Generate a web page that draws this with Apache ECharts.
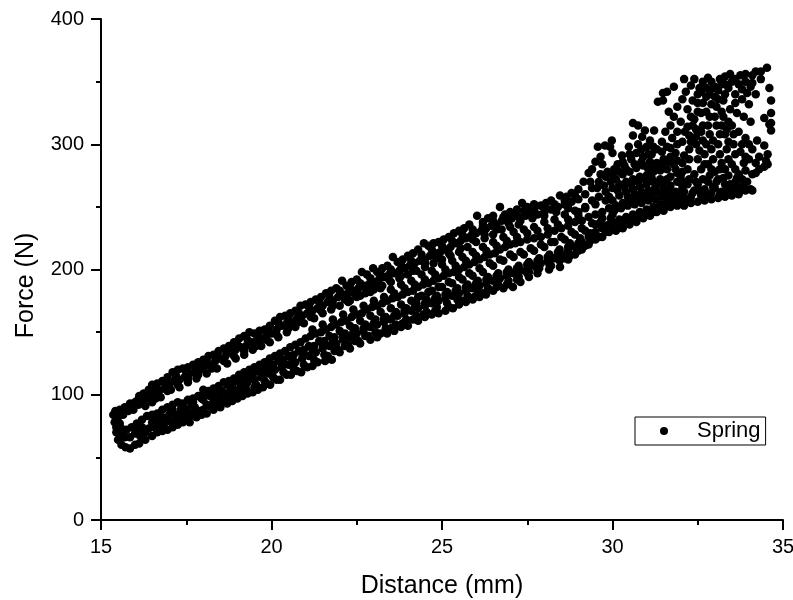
<!DOCTYPE html>
<html><head><meta charset="utf-8">
<style>html,body{margin:0;padding:0;background:#fff}#c{width:793px;height:600px}</style>
<script src="https://cdn.jsdelivr.net/npm/echarts@6/dist/echarts.min.js"></script>
</head><body><div id="c"></div>
<script>
const xTitle = "Distance (mm)";
const yTitle = "Force (N)";
const seriesName = "Spring";
const topEdge = [[15.36,84],[15.42,87],[15.55,88],[15.7,90],[15.85,93],[16,94],[16.12,99],[16.25,101],[16.4,104],[16.5,108],[16.65,109],[16.8,111],[16.95,114],[17.1,118],[17.25,120],[17.4,121],[17.55,122],[17.7,124],[17.85,126],[18,128],[18.15,131],[18.3,132],[18.45,135],[18.6,137],[18.75,139],[18.9,142],[19.05,145],[19.2,147],[19.35,150],[19.5,149],[19.65,151],[19.8,152],[19.95,155],[20.1,159],[20.25,162],[20.4,163],[20.55,165],[20.7,167],[20.85,171],[21,172],[21.15,174],[21.3,176],[21.45,178],[21.6,181],[21.75,183],[21.9,185],[22.07,191],[22.2,187],[22.35,190],[22.5,192],[22.65,198],[22.8,196],[22.98,201],[23.1,198],[23.25,201],[23.4,203],[23.56,210],[23.7,206],[23.85,208],[24,211],[24.15,213],[24.3,216],[24.47,221],[24.6,219],[24.75,221],[24.9,222],[25.05,224],[25.2,226],[25.35,229],[25.5,231],[25.65,233],[25.8,236],[26.03,243],[26.2,238],[26.35,241],[26.5,243],[26.7,250],[26.85,244],[27,246],[27.2,248],[27.35,253],[27.5,250],[27.7,252],[27.9,251],[28.05,253],[28.2,255],[28.46,259],[28.65,258],[28.8,261],[29,264],[29.15,270],[29.3,277]];
const upperInner = [[15.4,78],[15.5,82],[15.65,84],[15.8,87],[15.95,88],[16.1,92],[16.25,95],[16.4,97],[16.55,100],[16.7,103],[16.85,105],[17,108],[17.15,111],[17.3,112],[17.45,114],[17.6,117],[17.75,118],[17.9,120],[18.05,123],[18.2,124],[18.35,127],[18.5,129],[18.65,131],[18.8,134],[18.95,136],[19.1,138],[19.25,139],[19.4,142],[19.55,143],[19.7,145],[19.85,147],[20,149],[20.15,152],[20.3,155],[20.45,157],[20.6,158],[20.75,161],[20.9,163],[21.05,165],[21.2,167],[21.35,169],[21.5,171],[21.65,174],[21.8,175],[21.95,178],[22.1,180],[22.25,181],[22.4,183],[22.55,185],[22.7,187],[22.85,188],[23,190],[23.15,192],[23.3,194],[23.45,196],[23.6,197],[23.75,199],[23.9,201],[24.05,203],[24.2,205],[24.35,207],[24.5,208],[24.65,211],[24.8,213],[24.95,214],[25.1,216],[25.25,218],[25.4,221],[25.55,223],[25.7,225],[25.85,227],[26,229],[26.15,231],[26.3,233],[26.45,235],[26.6,236],[26.75,239],[26.9,240],[27.05,241],[27.25,242],[27.45,243],[27.6,245],[27.8,244],[28,246],[28.2,248],[28.4,250],[28.6,252],[28.8,254],[29,256],[29.2,260],[29.4,265],[29.6,270],[29.8,274],[30,276]];
const upperThird = [[16.3,91],[16.5,94],[16.75,98],[17.05,104],[17.3,106],[17.55,110],[17.8,113],[18.1,117],[18.4,121],[18.7,125],[18.95,129],[19.2,132],[19.45,136],[19.7,139],[19.95,142],[20.2,146],[20.45,150],[20.7,154],[20.95,157],[21.25,161],[21.5,165],[21.75,168],[22,171],[22.25,174],[22.5,178],[22.75,181],[23,184],[23.25,187],[23.5,190],[23.75,193],[24,196],[24.25,199],[24.5,202],[24.75,205],[25,208],[25.25,211],[25.5,214],[25.75,218],[26,222],[26.25,225],[26.5,228],[26.75,232],[27,234],[27.25,236]];
const upperRowA = [[15.5,85],[15.75,89],[16.05,95],[16.35,100],[16.6,104],[16.9,109],[17.2,115],[17.5,118],[17.8,122],[18.1,127],[18.4,131],[18.7,135],[19,140],[19.3,144],[19.6,147],[19.9,151],[20.2,157],[20.5,161],[20.8,165],[21.1,170],[21.4,174],[21.7,178],[22,183],[22.3,186],[22.6,189],[22.9,193],[23.2,196],[23.5,200],[23.8,204],[24.1,207],[24.4,212],[24.7,216],[25,219],[25.3,223],[25.6,228],[25.9,232],[26.2,235],[26.5,239],[26.8,242],[27.1,244],[27.4,247],[27.7,248],[28,249],[28.3,252],[28.6,255],[28.9,259]];
const upperRowB = [[16.6,97],[16.95,103],[17.25,108],[17.55,113],[17.85,116],[18.25,121],[18.6,127],[18.9,131],[19.2,135],[19.55,139],[19.85,144],[20.15,148],[20.5,153],[20.8,158],[21.15,162],[21.45,167],[21.8,171],[22.15,176],[22.45,180],[22.8,184],[23.1,187],[23.45,192],[23.8,195],[24.15,199],[24.5,205],[24.85,209],[25.2,213],[25.55,217],[25.9,224],[26.25,228],[26.6,232],[26.95,237],[27.3,239],[27.65,241],[28,243],[28.35,246],[28.7,249]];
const lowerInner = [[15.6,68],[15.75,72],[15.9,74],[16.05,77],[16.2,80],[16.35,83],[16.5,84],[16.65,85],[16.8,88],[16.95,90],[17.1,92],[17.25,94],[17.4,93],[17.55,96],[17.7,97],[17.85,99],[18,104],[18.15,103],[18.3,105],[18.45,107],[18.6,110],[18.75,111],[18.9,113],[19.05,116],[19.2,118],[19.35,120],[19.5,122],[19.65,124],[19.8,126],[19.95,129],[20.1,131],[20.25,133],[20.4,135],[20.55,138],[20.7,140],[20.85,142],[21,145],[21.15,147],[21.3,149],[21.45,150],[21.6,152],[21.75,154],[21.9,156],[22.05,158],[22.2,159],[22.35,162],[22.5,164],[22.65,165],[22.8,168],[22.95,170],[23.1,171],[23.25,173],[23.4,175],[23.55,177],[23.7,178],[23.85,180],[24,182],[24.15,183],[24.3,186],[24.45,188],[24.6,189],[24.75,191],[24.9,193],[25.05,195],[25.2,197],[25.35,198],[25.5,200],[25.65,202],[25.8,204],[25.95,206],[26.1,208],[26.25,210],[26.4,212],[26.55,213],[26.7,216],[26.85,218],[27,220],[27.15,221],[27.3,222],[27.5,224],[27.7,225],[27.9,226],[28.1,228],[28.3,231],[28.5,233],[28.7,235],[28.9,238],[29.1,239],[29.3,242],[29.5,244],[29.7,246],[29.9,249],[30.1,251],[30.3,253],[30.5,255],[30.7,257],[30.9,258],[31.1,260],[31.3,262],[31.5,265],[31.7,267],[31.9,270]];
const bottomEdge = [[15.45,70],[15.5,64],[15.6,60],[15.72,58],[15.85,57],[16,60],[16.12,61],[16.3,64],[16.5,67],[16.65,70],[16.8,71],[16.95,72],[17.1,74],[17.25,76],[17.4,78],[17.6,78],[17.8,82],[17.95,84],[18.1,85],[18.3,88],[18.5,90],[18.7,93],[18.85,95],[19,97],[19.15,99],[19.3,101],[19.45,102],[19.6,104],[19.75,106],[19.96,108],[20.25,112],[20.57,116],[20.87,118],[21.2,123],[21.57,127],[21.77,128],[22,134],[22.3,137],[22.6,141],[22.9,144],[23.1,146],[23.39,149],[23.6,151],[23.8,154],[24,155],[24.3,159],[24.5,162],[24.7,164],[24.9,165],[25.1,167],[25.32,169],[25.5,172],[25.7,174],[25.9,176],[26.1,178],[26.29,180],[26.5,183],[26.8,185],[27.08,186],[27.3,190],[27.55,194],[27.8,197],[28.14,200],[28.46,202],[28.7,208],[28.9,212],[29.1,216],[29.3,220],[29.5,224],[29.7,226],[29.9,230],[30.1,231],[30.3,233],[30.5,236],[30.7,238],[30.9,241],[31.1,243],[31.3,246],[31.5,247],[31.7,250],[31.9,251],[32.1,251],[32.3,253],[32.5,254],[32.7,255],[32.9,256],[33.1,257],[33.3,258],[33.5,259],[33.7,260],[33.9,263],[34.05,264]];
const middleFill = [[15.45,74],[15.55,77],[15.6,73],[15.7,66],[15.85,66],[16,69],[16.1,72],[16.2,74],[16.3,70],[16.5,78],[16.6,80],[16.75,79],[16.9,81],[17,84],[17.2,84],[17.35,86],[17.5,88],[17.75,90],[18.1,92],[18.3,95],[18.5,98],[18.7,101],[18.9,104],[19.1,107],[19.3,110],[19.5,112],[19.7,114],[19.9,117],[20.1,120],[20.3,122],[20.5,124],[20.7,126],[20.9,129],[21.1,131],[21.3,134],[21.5,137],[21.7,139],[21.9,141],[22.1,144],[22.3,146],[22.5,149],[22.7,151],[22.9,154],[23.1,156],[23.3,158],[23.5,160],[23.7,163],[23.9,165],[24.1,167],[24.3,169],[24.5,171],[24.7,173],[24.9,175],[25.1,177],[25.3,179],[25.5,181],[25.7,183],[25.9,185],[26.1,187],[26.3,189],[26.5,191],[26.7,193],[26.9,195],[27.1,197],[27.3,199],[27.5,201],[27.7,203],[27.9,205],[28.1,207],[28.3,209],[28.5,212],[28.7,215],[28.9,218],[29.1,222],[29.3,226],[29.5,230],[29.7,233],[29.9,236]];
const lowerFillA = [[16.15,67],[16.4,73],[16.7,76],[17,79],[17.3,81],[17.6,83],[17.9,87],[18.2,91],[18.5,94],[18.8,99],[19,102],[19.25,105],[19.55,108],[19.8,111],[20.05,114],[20.35,118],[20.65,121],[20.95,124],[21.25,128],[21.55,132],[21.85,135],[22.15,139],[22.45,143],[22.75,147],[23.05,150],[23.35,153],[23.65,156],[23.95,160],[24.25,163],[24.55,166],[24.85,170],[25.15,173],[25.45,176],[25.75,179],[26.05,182],[26.35,185],[26.65,188],[26.95,191],[27.25,194],[27.55,198],[27.85,201],[28.15,204],[28.45,207],[28.75,211],[29.05,219],[29.35,223]];
const lowerFillB = [[16.6,83],[17.1,88],[17.4,91],[17.7,94],[18,96],[18.3,100],[18.55,103],[18.85,107],[19.15,112],[19.45,116],[19.75,120],[20.05,124],[20.35,128],[20.65,132],[20.95,136],[21.25,139],[21.55,143],[21.85,146],[22.15,149],[22.45,153],[22.75,156],[23.05,160],[23.35,162],[23.65,166],[23.95,169],[24.25,173],[24.55,176],[24.85,179],[25.15,182],[25.45,185],[25.75,188],[26.05,191],[26.35,194],[26.65,197],[26.95,200],[27.25,203],[27.55,206],[27.85,209],[28.15,212],[28.45,216],[28.75,221],[29.05,225],[29.35,229],[29.65,238],[29.95,241]];
const lowerRowC = [[16.25,70],[16.55,74],[16.85,77],[17.15,79],[17.45,83],[17.7,86],[18,88],[18.35,92],[18.65,97],[18.95,100],[19.2,103],[19.5,106],[19.85,109],[20.15,112],[20.45,116],[20.75,119],[21.05,122],[21.35,126],[21.65,131],[21.95,136],[22.25,140],[22.55,143],[22.85,147],[23.2,149],[23.5,153],[23.85,157],[24.15,160],[24.45,164],[24.8,167],[25.2,170],[25.6,175],[25.95,178],[26.2,181],[26.6,186],[26.9,188],[27.2,192],[27.5,197],[27.8,200],[28.2,203],[28.6,209],[29,215],[29.2,219],[29.6,226],[29.8,230],[30,233],[30.2,236],[30.4,238],[30.6,240],[30.8,243],[31,245],[31.2,246],[31.4,249],[31.6,251],[31.8,253],[32,254]];
const lowerRowD = [[16.8,82],[17.05,86],[17.35,89],[17.65,92],[17.95,97],[18.2,99],[18.5,101],[18.8,105],[19.1,109],[19.4,113],[19.7,117],[20,121],[20.3,125],[20.6,129],[20.9,133],[21.2,136],[21.5,140],[21.8,143],[22.1,147],[22.4,150],[22.7,153],[23,157],[23.3,161],[23.6,163],[23.9,167],[24.2,170],[24.5,173],[24.8,177],[25.1,180],[25.4,183],[25.7,186],[26,189],[26.3,192],[26.6,195],[26.9,198],[27.2,201],[27.5,204],[27.8,207],[28.1,210],[28.4,214],[28.7,218],[29,221],[29.4,227],[29.8,235],[30,238],[30.2,240],[30.4,242],[30.6,244],[30.8,246],[31,248],[31.2,250],[31.4,252],[31.6,254],[31.8,256],[32,262]];
const lowerRowE = [[18,100],[18.4,105],[18.7,108],[19,111],[19.3,114],[19.6,119],[19.9,123],[20.2,127],[20.5,131],[20.8,135],[21.1,139],[21.4,143],[21.7,147],[22,151],[22.3,155],[22.6,159],[22.9,163],[23.2,166],[23.5,169],[23.8,172],[24.1,175],[24.4,179],[24.7,183],[25,186],[25.3,189],[25.6,192],[25.9,195],[26.2,198],[26.5,203],[26.8,207],[27.1,210],[27.4,212],[27.7,215],[28,218],[28.3,222],[28.6,224],[28.9,228],[29.2,231],[29.5,236]];
const centreFill = [[21.2,152],[21.5,156],[21.8,160],[22.1,164],[22.4,168],[22.7,171],[23,175],[23.3,178],[23.6,181],[23.9,185],[24.2,188],[24.5,192],[24.8,196],[25.1,200],[25.4,203],[25.7,207],[26,211],[26.3,215],[26.6,219],[26.9,223],[27.2,226],[27.5,229],[27.8,231],[28.1,233],[28.4,236],[28.7,240],[29,243],[22.3,175],[22.6,179],[22.9,182],[23.2,185],[23.5,184],[23.8,188],[24.1,191],[24.4,196],[24.7,199],[25,204],[25.3,207],[25.6,210],[25.9,214],[26.2,218],[26.5,222],[26.8,226],[27.1,230],[27.4,232],[27.7,234],[28,238],[28.3,240],[28.6,244],[28.9,247],[29.2,249],[29.5,252],[29.8,255],[24.3,178],[24.6,182],[24.9,186],[25.2,190],[25.5,194],[25.8,197],[26.1,201],[26.4,205],[26.7,208],[27,212],[27.3,214],[27.6,217],[27.9,220],[28.2,222],[28.5,226],[28.8,230],[29.1,233],[29.4,237],[29.7,241],[30,244]];
const cloudLow = [[30,255],[30.2,259],[30.4,262],[30.6,264],[30.8,266],[31,268],[31.2,270],[31.4,272],[31.6,272],[31.8,258],[32,258],[32.1,262],[32.2,268],[32.3,258],[32.4,263],[32.5,268],[32.6,259],[32.7,264],[32.8,270],[32.9,261],[33,265],[33.1,272],[33.2,262],[33.3,268],[33.4,275],[33.5,263],[33.6,270],[33.7,266],[33.8,272],[33.95,270],[34.1,263],[33.3,280],[33.5,284],[33.7,276],[33.9,279],[34.1,276],[34.2,277],[34.3,280],[34.45,282],[34.55,284],[32,275],[32.2,280],[32.4,276],[32.6,280],[32.8,284],[33,278],[33.2,285],[31.6,280],[31.8,284],[31.4,279],[31.2,278],[31,275],[30.8,274],[30.6,272],[30.4,270],[30.2,268],[30,265],[29.8,262],[29.6,258],[29.4,255],[29.2,250],[29,246],[30.1,272],[30.3,276],[30.5,278],[30.7,281],[30.9,283],[31.1,286],[31.3,285],[31.5,288],[31.7,290],[31.9,287],[32.1,291],[30.05,247],[30.25,249],[30.45,251],[30.65,252],[30.85,253],[31.05,255],[31.25,256],[31.45,258],[31.65,259],[31.85,262],[32.05,266],[32.25,272],[32.45,270],[32.65,272],[32.85,275],[33.05,270],[33.25,273],[33.45,268],[33.65,273],[33.85,266],[32.15,256],[32.35,261],[32.55,263],[32.75,259],[32.95,266],[33.15,260],[33.35,263],[33.55,266],[33.75,263],[31.3,268],[31.5,270],[31.7,274],[31.9,277],[32.1,270],[30.45,258],[30.65,260],[30.85,262],[31.05,263],[31.25,265],[31.45,262],[31.65,263],[29.9,258],[30.15,263],[30.35,266],[30.55,268],[30.75,270],[30.95,272],[31.15,273]];
const cloudTop = [[29.57,298],[29.78,299],[29.93,298],[29.98,303],[30,293],[30.28,291],[30.48,298],[30.75,300],[31,298],[30.6,317],[30.75,315],[30.95,311],[31.22,311],[30.6,307],[30.87,306],[31.33,334],[31.48,335],[31.6,342],[31.8,346],[31.48,341],[29.4,280],[29.5,286],[29.7,284],[29.65,290],[30.15,284],[30.35,283],[30.55,288],[30.7,293],[30.9,290],[31.15,292],[31.3,296],[31.1,303],[31.45,302],[31.6,298],[31.75,305],[31.9,300],[31.55,310],[31.7,315],[31.9,310],[32,318],[31.8,322],[31.65,326],[31.9,330],[32.05,336],[32.15,342],[32.3,347],[32.2,328],[32.35,335],[32.5,340],[32.65,350],[32.8,353],[32.4,352],[32.55,345],[32.3,322],[32.5,326],[32.65,333],[32.85,340],[33,346],[33.15,352],[33.3,354],[33.45,356],[33.6,352],[33.75,355],[33.9,350],[34.05,346],[34.2,358],[34.35,358],[34.53,361],[33.95,341],[33.8,336],[33.6,340],[33.4,345],[33.25,335],[33.05,330],[32.85,322],[32.65,315],[32.45,312],[32.25,307],[32.05,302],[32.25,296],[32.45,300],[32.65,303],[32.85,308],[33.05,315],[33.25,322],[33.45,328],[33.65,325],[33.85,322],[34.05,318],[33.5,315],[33.7,310],[33.9,305],[33.3,308],[33.1,300],[32.9,296],[32.7,292],[32.5,288],[32.95,288],[33.15,292],[33.35,296],[33.55,300],[33.75,294],[33.9,290],[34.1,296],[34.24,303],[34.45,299],[34.55,292],[34.6,345],[34.65,335],[34.65,325],[34.65,317],[34.45,321],[34.6,316],[34.65,311],[34.5,287],[32.2,314],[32.4,320],[32.6,325],[32.75,345],[33,338],[33.2,326],[33.4,318],[33.6,333],[33.8,344],[34,332],[34.2,340],[34.1,349],[32.1,352],[32.9,350],[33.1,343],[33.3,348]];
const cloudExtra = [[32.12,310],[32.3,302],[32.55,295],[32.75,300],[32.95,303],[33.15,308],[33.35,312],[33.55,308],[32.45,306],[32.6,310],[32.8,315],[33,322],[33.2,315],[33.4,302],[33.6,292],[33.8,300],[34,300],[34.2,285],[32.05,285],[32.25,288],[32.7,284],[32.9,280],[33.15,280],[33.4,288],[33.6,280],[33.85,285],[34,288],[34.3,290],[32.6,342],[32.75,338],[32.9,332],[33.1,336],[33.3,340],[33.5,350],[33.7,348],[33.9,356],[34.1,355],[34.35,352],[32.5,333],[32.35,315],[32.75,326],[32.95,345],[33.2,348],[31.85,293],[31.7,297],[31.45,294],[31.2,298],[31.05,292],[30.85,296],[30.5,292],[30.3,286],[30.05,280],[29.85,278],[29.65,276],[29.35,270],[29.55,265],[29.75,267],[29.95,270],[30.2,278],[30.4,280],[30.65,284],[30.85,286],[31.05,280],[31.25,282],[31.45,284],[31.65,286],[31.85,280],[32.05,278]];
const xTicks = [15,20,25,30,35];
const yTicks = [0,100,200,300,400];

const allPoints = [].concat(topEdge, upperInner, upperThird, upperRowA, upperRowB, lowerInner, bottomEdge, middleFill, lowerFillA, lowerFillB, lowerRowC, lowerRowD, lowerRowE, centreFill, cloudLow, cloudTop, cloudExtra);
const chart = echarts.init(document.getElementById('c'), null, {renderer:'canvas'});
const axisBase = (name, gap) => ({
  name, nameLocation:'middle', nameGap:gap,
  nameTextStyle:{fontFamily:'Liberation Sans',fontSize:25,color:'#000'},
  axisLine:{show:true,onZero:false,lineStyle:{color:'#000',width:2}},
  axisTick:{show:true,inside:false,length:10,lineStyle:{color:'#000',width:2}},
  minorTick:{show:true,splitNumber:2,length:5,lineStyle:{color:'#000',width:2}},
  splitLine:{show:false},minorSplitLine:{show:false},
  axisLabel:{fontFamily:'Liberation Sans',fontSize:20,color:'#000',margin:17,showMinLabel:true,showMaxLabel:true}
});
const xAxisOpt = axisBase(xTitle,54);
const yAxisOpt = axisBase(yTitle,62);
yAxisOpt.nameTextStyle = Object.assign({}, yAxisOpt.nameTextStyle, {padding:[0,32,0,0]});
chart.setOption({
  animation:false,
  backgroundColor:'#fff',
  grid:{left:101,right:10,top:19,bottom:80,outerBoundsMode:'none'},
  xAxis:Object.assign(xAxisOpt,{type:'value',min:xTicks[0],max:xTicks[4],interval:5}),
  yAxis:Object.assign(yAxisOpt,{type:'value',min:yTicks[0],max:yTicks[4],interval:100}),
  legend:{show:true,left:635,top:417,orient:'horizontal',padding:[3,5,3,25],
    borderColor:'#000',borderWidth:1,backgroundColor:'#fff',
    itemWidth:46,itemHeight:8,
    textStyle:{fontFamily:'Liberation Sans',fontSize:22,color:'#000',padding:[0,0,0,5]},
    data:[{name:seriesName,icon:'circle'}]},
  series:[{name:seriesName,type:'scatter',symbol:'circle',symbolSize:8.5,
    itemStyle:{color:'#000',opacity:1},clip:false,data:allPoints}]
});
</script></body></html>
